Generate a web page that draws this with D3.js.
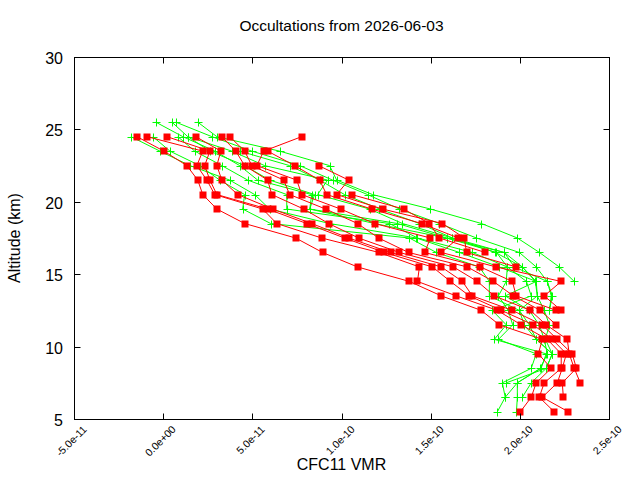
<!DOCTYPE html>
<html>
<head>
<meta charset="utf-8">
<script src="https://cdn.jsdelivr.net/npm/d3@7"></script>
<style>
  body { margin: 0; background: #fff; }
  text { font-family: "Liberation Sans", Arial, sans-serif; fill: #000; }
</style>
</head>
<body>
<svg id="chart" width="640" height="480"></svg>
<script>
// altitude grid (km), profiles start at some level and go down 1 km per point
var levels = [25.5, 24.5, 23.5, 22.5, 21.5, 20.5, 19.5, 18.5, 17.5, 16.5, 15.5,
              14.5, 13.5, 12.5, 11.5, 10.5, 9.5, 8.5, 7.5, 6.5, 5.5];

var xTicks = [-5e-11, 0, 5e-11, 1e-10, 1.5e-10, 2e-10, 2.5e-10];
var yTicks = [5, 10, 15, 20, 25, 30];

// red profiles: CFC11 in ppt, start altitude
var redStart = [24.5, 24.5, 24.5, 24.5, 24.5, 24.5, 24.5, 23.5, 22.5, 20.5];
var redPpt = [
  [-14.7, 0.4, 13.3, 19.4, 22.2, 30.1, 45.7, 74.3, 89.4, 109.0, 138.1, 156.0, 178.4, 188.5, 212.6, 210.4, 217.6, 209.2, 206.4, 200.3],
  [-9.1, 22.2, 18.9, 24.5, 28.9, 55.8, 63.7, 88.9, 121.0, 143.7, 142.6, 164.4, 187.4, 200.8, 215.4, 223.2, 223.2, 213.7, 210.9, 219.3],
  [2.1, 26.2, 23.3, 26.2, 30.1, 58.6, 80.5, 101.7, 124.1, 151.0, 161.1, 171.7, 189.7, 207.6, 218.2, 226.1, 223.8, 221.0, 212.6, 227.2],
  [18.3, 32.3, 30.1, 32.9, 41.8, 61.4, 83.3, 104.0, 127.6, 156.0, 167.8, 173.4, 195.8, 212.6, 221.0, 229.4, 231.7, 223.8, 224.4],
  [32.9, 40.7, 45.7, 58.6, 60.9, 78.8, 92.8, 109.6, 132.5, 162.8, 176.2, 185.7, 205.9, 214.8, 226.6, 227.7, 230.5, 233.9],
  [37.3, 45.7, 49.7, 67.6, 70.9, 91.1, 109.0, 120.8, 137.6, 170.6, 185.2, 196.4, 211.5, 220.4],
  [77.7, 56.4, 52.5, 74.9, 77.7, 99.5, 118.6, 149.9, 146.6, 177.9, 195.8, 198.0, 220.4],
  [58.6, 73.7, 87.7, 91.7, 116.9, 144.9, 165.6, 156.0, 186.8, 223.2, 213.7, 223.2],
  [87.2, 104.0, 97.3, 123.0, 156.6, 168.9, 170.1, 198.0],
  [105.7, 134.8, 149.3, 154.9, 180.6]
];

// green profiles
var greenStart = [25.5, 25.5, 25.5, 25.5, 24.5, 24.5, 24.5, 24.5, 23.5];
var greenPpt = [
  [19.4, 30.1, 65.3, 93.3, 97.3, 117.4, 149.9, 178.5, 198.6, 211.0, 222.1, 230.5],
  [7.1, 27.3, 49.7, 76.6, 95.0, 114.6, 132.5, 154.9, 175.7, 199.7, 209.2, 215.4, 218.2, 216.6],
  [4.9, 13.8, 38.5, 56.9, 92.2, 86.6, 115.8, 134.2, 162.2, 191.3, 201.4, 209.2, 209.8, 199.7, 205.3, 209.2, 218.2, 214.8, 206.4, 201.4],
  [-4.1, 11.0, 29.0, 42.9, 53.0, 83.3, 82.2, 131.4, 158.9, 186.9, 193.0, 203.7, 206.4, 184.6, 192.4, 185.7, 214.8, 211.9, 198.6, 198.6, 198.1],
  [8.2, 17.7, 32.9, 47.4, 69.3, 69.3, 126.9, 142.6, 173.4, 193.0, 192.4, 188.0, 193.5, 196.0, 188.0, 209.2, 206.4, 190.2, 191.8, 187.4],
  [-5.8, 3.8, 20.5, 31.7, 45.7, 44.6, 60.3, 138.1, 153.2, 177.3, 182.9, 182.9, 199.7, 202.5, 209.2, 218.2, 214.8, 192.4],
  [-18.1, -1.8, 15.0, 37.3, 51.3, 59.7, 93.3, 142.0, 166.1, 188.5, 209.2, 191.8, 205.3, 210.9, 213.7, 215.4, 211.5, 198.6, 191.8],
  [13.8, 26.2, 45.7, 59.7, 84.9, 82.2, 118.6, 158.9, 191.3, 196.9, 215.4, 217.6, 216.6],
  [42.9, 70.9, 87.7, 101.7, 121.3, 143.7, 162.2, 186.3, 201.4, 208.7, 209.8, 213.7, 216.6, 214.3, 218.2]
];

var plotL = 74, plotR = 609, plotT = 57, plotB = 419;

var svg = d3.select("#chart");

var x = d3.scaleLinear().domain([-5e-11, 2.5e-10]).range([plotL, plotR]);
var y = d3.scaleLinear().domain([5, 30]).range([plotB, plotT]);

function toPoints(start, vals) {
  var i0 = levels.indexOf(start);
  return vals.map(function(v, i) { return { alt: levels[i0 + i], vmr: v * 1e-12 }; });
}

function fmt(v) {
  var s = v.toExponential(1);
  var m = s.split("e");
  var e = parseInt(m[1]);
  var es = (e < 0 ? "-" : "+") + (Math.abs(e) < 10 ? "0" : "") + Math.abs(e);
  return m[0] + "e" + es;
}

var line = d3.line().x(function(d) { return x(d.vmr); }).y(function(d) { return y(d.alt); });

// green first
var g = svg.append("g").attr("class", "green");
greenPpt.forEach(function(vals, k) {
  var pts = toPoints(greenStart[k], vals);
  g.append("path").attr("d", line(pts)).attr("fill", "none").attr("stroke", "#00ff00").attr("stroke-width", 1);
  g.selectAll(null).data(pts).enter().append("path")
    .attr("d", function(d) {
      var cx = Math.round(x(d.vmr)) + 0.5, cy = Math.round(y(d.alt)) + 0.5;
      return "M" + (cx - 4) + "," + cy + "H" + (cx + 4) + "M" + cx + "," + (cy - 4) + "V" + (cy + 4);
    })
    .attr("stroke", "#00ff00").attr("stroke-width", 1).attr("fill", "none");
});

var r = svg.append("g").attr("class", "red");
redPpt.forEach(function(vals, k) {
  var pts = toPoints(redStart[k], vals);
  r.append("path").attr("d", line(pts)).attr("fill", "none").attr("stroke", "#ff0000").attr("stroke-width", 1);
  r.selectAll(null).data(pts).enter().append("rect")
    .attr("x", function(d) { return Math.round(x(d.vmr)) - 3.5; })
    .attr("y", function(d) { return Math.round(y(d.alt)) - 3.5; })
    .attr("width", 7).attr("height", 7)
    .attr("fill", "#ff0000");
});

// frame
svg.append("rect").attr("x", plotL + 0.5).attr("y", plotT + 0.5)
  .attr("width", plotR - plotL).attr("height", plotB - plotT)
  .attr("fill", "none").attr("stroke", "#000").attr("stroke-width", 1);

// axes (ticks inward, mirrored)
var ax = svg.append("g");
xTicks.forEach(function(t) {
  var px = Math.round(x(t)) + 0.5;
  ax.append("line").attr("x1", px).attr("x2", px).attr("y1", plotB + 0.5).attr("y2", plotB - 5.5).attr("stroke", "#000");
  ax.append("line").attr("x1", px).attr("x2", px).attr("y1", plotT + 0.5).attr("y2", plotT + 6.5).attr("stroke", "#000");
  ax.append("text").attr("transform", "translate(" + (px + 13) + "," + (plotB + 11) + ") rotate(-45)")
    .attr("text-anchor", "end").attr("font-size", 10.5).text(fmt(t));
});
yTicks.forEach(function(t) {
  var py = Math.round(y(t)) + 0.5;
  ax.append("line").attr("x1", plotL + 0.5).attr("x2", plotL + 6.5).attr("y1", py).attr("y2", py).attr("stroke", "#000");
  ax.append("line").attr("x1", plotR + 0.5).attr("x2", plotR - 5.5).attr("y1", py).attr("y2", py).attr("stroke", "#000");
  ax.append("text").attr("x", plotL - 11).attr("y", py + 6)
    .attr("text-anchor", "end").attr("font-size", 16).text(t);
});

svg.append("text").attr("x", (plotL + plotR) / 2).attr("y", 31)
  .attr("text-anchor", "middle").attr("font-size", 15.5).text("Occultations from 2026-06-03");
svg.append("text").attr("x", (plotL + plotR) / 2).attr("y", 470)
  .attr("text-anchor", "middle").attr("font-size", 16).text("CFC11 VMR");
svg.append("text").attr("transform", "translate(20," + ((plotT + plotB) / 2) + ") rotate(-90)")
  .attr("text-anchor", "middle").attr("font-size", 16).text("Altitude (km)");
</script>
</body>
</html>
